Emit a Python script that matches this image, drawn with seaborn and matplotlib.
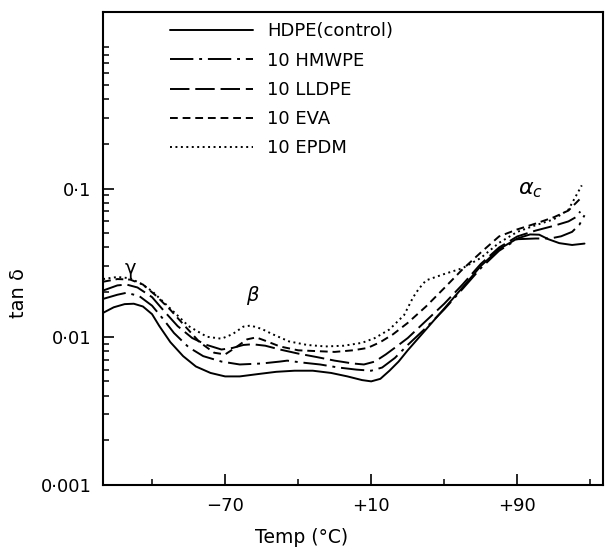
import matplotlib
matplotlib.use("Agg")
import matplotlib.pyplot as plt
from matplotlib.ticker import FixedLocator, LogLocator, NullFormatter
import numpy as np
import pandas as pd
import seaborn as sns

# valores (temperatura en C, tan delta)
temp_hdpe = [-136.8, -131, -125, -120, -115, -110, -106, -100, -93, -86, -78, -70, -62, -52, -42,
             -32, -22, -12, -3, 5, 10, 15, 20, 25, 30, 40, 50, 60, 70, 80, 90, 97, 102, 107, 113, 120, 126.8]
tan_hdpe = [0.0145, 0.0158, 0.0166, 0.0167, 0.0160, 0.0142, 0.0118, 0.0092, 0.0074, 0.0063, 0.0057,
            0.0054, 0.0054, 0.0056, 0.0058, 0.0059, 0.0059, 0.0057, 0.0054, 0.0051, 0.0050, 0.0052,
            0.0059, 0.0068, 0.0081, 0.0112, 0.0155, 0.0215, 0.030, 0.039, 0.046, 0.049, 0.0488,
            0.0455, 0.0428, 0.0416, 0.0425]

temp_hmwpe = [-136.8, -129, -124, -117, -110, -104, -98, -90, -82, -72, -62, -50, -40, -36, -28, -18,
              -8, 2, 10, 16, 23, 30, 40, 50, 60, 70, 80, 90, 100, 108, 114, 120, 124, 126.8]
tan_hmwpe = [0.0180, 0.0192, 0.0198, 0.0188, 0.0162, 0.0132, 0.0106, 0.0085, 0.0074, 0.0068, 0.0065,
             0.0066, 0.0068, 0.0069, 0.0067, 0.0065, 0.0062, 0.0060, 0.0059, 0.0062, 0.0072, 0.0088,
             0.0115, 0.0153, 0.021, 0.029, 0.038, 0.0455, 0.046, 0.046, 0.0476, 0.051, 0.057, 0.066]

temp_lldpe = [-136.8, -129, -124, -118, -110, -103, -96, -88, -80, -72, -66, -60, -55, -48, -40, -30,
              -20, -10, 0, 6, 12, 18, 25, 30, 40, 50, 60, 70, 80, 90, 100, 110, 118, 122, 124.5]
tan_lldpe = [0.0205, 0.0222, 0.0225, 0.0215, 0.0185, 0.0147, 0.0118, 0.0098, 0.0088, 0.0082, 0.0084,
             0.0088, 0.0089, 0.0087, 0.0082, 0.0077, 0.0073, 0.0069, 0.0066, 0.0065, 0.0068, 0.0076,
             0.0088, 0.0098, 0.0128, 0.0167, 0.0225, 0.031, 0.040, 0.0475, 0.052, 0.056, 0.060,
             0.064, 0.070]

temp_eva = [-136.8, -129, -122, -115, -108, -100, -92, -84, -76, -70, -64, -58, -53, -48, -40, -30,
            -20, -10, 0, 8, 15, 22, 30, 40, 50, 60, 70, 80, 90, 100, 110, 118, 124.3]
tan_eva = [0.0235, 0.0245, 0.0243, 0.0225, 0.0190, 0.0152, 0.0118, 0.0092, 0.0078, 0.0076, 0.0085,
           0.0096, 0.0099, 0.0094, 0.0086, 0.0081, 0.0080, 0.0079, 0.0081, 0.0084, 0.0092, 0.0104,
           0.0124, 0.016, 0.0213, 0.0285, 0.037, 0.0475, 0.053, 0.058, 0.064, 0.071, 0.085]

temp_epdm = [-136.8, -129, -122, -116, -110, -100, -90, -80, -72, -66, -60, -56, -50, -44, -35, -25,
             -15, -5, 5, 12, 20, 28, 33, 36, 40, 50, 60, 70, 80, 90, 100, 110, 118, 125.3]
tan_epdm = [0.0245, 0.0253, 0.0248, 0.0228, 0.0203, 0.0155, 0.0118, 0.0100, 0.0097, 0.0104, 0.0117,
            0.0119, 0.0113, 0.0104, 0.0093, 0.0088, 0.0086, 0.0087, 0.0091, 0.0098, 0.0112, 0.0140,
            0.0185, 0.021, 0.0240, 0.0265, 0.029, 0.034, 0.043, 0.051, 0.0565, 0.062, 0.072, 0.105]

muestras = ["HDPE(control)", "10 HMWPE", "10 LLDPE", "10 EVA", "10 EPDM"]
series = [(temp_hdpe, tan_hdpe), (temp_hmwpe, tan_hmwpe), (temp_lldpe, tan_lldpe),
          (temp_eva, tan_eva), (temp_epdm, tan_epdm)]

x_ticks_mayores = [-70, 10, 90]
x_tick_labels = ["\u221270", "+10", "+90"]
x_ticks_menores = [-110, -30, 50, 130]
y_ticks = [0.001, 0.01, 0.1]
y_tick_labels = ["0\u00b7001", "0\u00b701", "0\u00b71"]

filas = []
for nombre, (t, v) in zip(muestras, series):
    for a, b in zip(t, v):
        filas.append({"temp": a, "tand": b, "muestra": nombre})
df = pd.DataFrame(filas)

sns.set_style("ticks")
plt.rcParams["font.family"] = ["DejaVu Sans"]
plt.rcParams["text.color"] = "black"
plt.rcParams["axes.labelcolor"] = "black"

fig = plt.figure(figsize=(6.08, 5.48), dpi=100)
ax = fig.add_axes([0.169, 0.115, 0.823, 0.863])

estilos = {
    "HDPE(control)": "",
    "10 HMWPE": (12, 3, 1.5, 3),
    "10 LLDPE": (10, 3),
    "10 EVA": (4, 2.5),
    "10 EPDM": (1, 1.8),
}

sns.lineplot(data=df, x="temp", y="tand", style="muestra", style_order=muestras,
             dashes=estilos, color="black", linewidth=1.4, estimator=None, sort=False, ax=ax)

ax.set_yscale("log")
ax.set_xlim(-137, 137)
ax.set_ylim(0.001, 1.55)

ax.xaxis.set_major_locator(FixedLocator(x_ticks_mayores))
ax.set_xticklabels(x_tick_labels)
ax.xaxis.set_minor_locator(FixedLocator(x_ticks_menores))
ax.set_yticks(y_ticks)
ax.set_yticklabels(y_tick_labels)
ax.yaxis.set_minor_locator(LogLocator(base=10, subs=np.arange(2, 10)))
ax.yaxis.set_minor_formatter(NullFormatter())

ax.tick_params(which="major", direction="in", length=8, width=1.2, labelsize=13, colors="black", pad=8)
ax.tick_params(which="minor", direction="in", length=4.5, width=1.1, colors="black")
ax.tick_params(axis="x", which="major", pad=9)
for s in ax.spines.values():
    s.set_linewidth(1.5)
    s.set_color("black")

ax.set_xlabel("Temp (\u00b0C)", fontsize=13.5)
ax.set_ylabel("tan \u03b4", fontsize=14)
ax.xaxis.set_label_coords(0.398, -0.092)
ax.yaxis.set_label_coords(-0.15, 0.405)

# etiquetas de las relajaciones
ax.text(-122, 0.029, "\u03b3", fontsize=14, ha="center", va="center")
ax.text(-55, 0.019, "\u03b2", fontsize=14, ha="center", va="center", style="italic")
ax.text(97, 0.097, r"$\alpha_c$", fontsize=16, ha="center", va="center")

handles, labels = ax.get_legend_handles_labels()
ax.legend(handles, labels, loc="upper left", bbox_to_anchor=(0.135, 0.978), frameon=False,
          borderaxespad=0, borderpad=0, handlelength=4.6, handletextpad=0.75,
          labelspacing=0.62, fontsize=13)

fig.savefig("out.png", dpi=100)
